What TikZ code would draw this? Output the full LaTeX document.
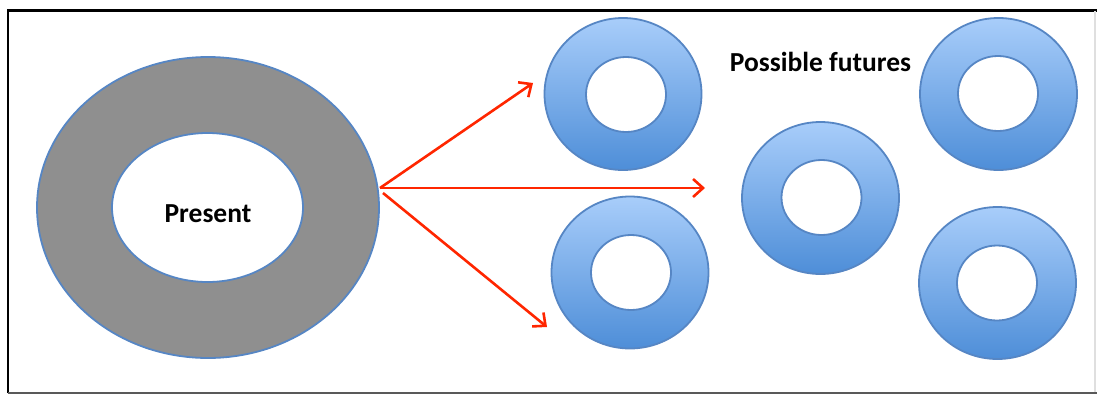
\documentclass[tikz,border=0pt]{standalone}
\usepackage{fontspec}
\setmainfont{Carlito}
\usetikzlibrary{shapes.geometric,arrows.meta}
\definecolor{ringedge}{RGB}{86,134,196}
\definecolor{ringtop}{RGB}{168,205,250}
\definecolor{ringbot}{RGB}{78,142,216}
\definecolor{presentgray}{RGB}{143,143,143}
\definecolor{arrowred}{RGB}{255,38,0}
\tikzset{
  outerring/.style={ellipse, inner sep=0pt, draw=ringedge, line width=1.8pt,
    top color=ringtop, bottom color=ringbot, minimum width=157pt, minimum height=152pt},
  innerring/.style={ellipse, inner sep=0pt, draw=ringedge, line width=1.8pt,
    fill=white, minimum width=80pt, minimum height=75pt},
  bigouter/.style={ellipse, inner sep=0pt, draw=ringedge, line width=1.8pt,
    fill=presentgray, minimum width=342pt, minimum height=301pt},
  biginner/.style={ellipse, inner sep=0pt, draw=ringedge, line width=1.8pt,
    fill=white, minimum width=191pt, minimum height=149pt},
  label/.style={inner sep=0pt, font=\fontsize{27.5}{30}\selectfont\bfseries},
  future/.style={draw=arrowred, line width=2.6pt,
    -{Straight Barb[length=10pt,width=18pt,line width=2.6pt]}}
}
\begin{document}
\begin{tikzpicture}[x=1pt,y=-1pt]
\useasboundingbox (0,0) rectangle (1097,394);
% frame
\draw[black, line width=2.5pt] (8,393) -- (8,10.5) -- (1097,10.5);
\draw[gray!25, line width=1.2pt] (1095,10.5) -- (1095,393);
\draw[black!65, line width=1.5pt] (8,393) -- (1097,393);
% present
\node[bigouter] (pout) at (208,207.5) {};
\node[biginner] (pin) at (207.5,207.5) {};
\node[label] (ptext) at (208,213.5) {Present};
% futures
\node[outerring] (f1) at (623,94) {};
\node[innerring] (f1i) at (626,94.5) {};
\node[outerring] (f2) at (630,272.5) {};
\node[innerring] (f2i) at (631,272.5) {};
\node[outerring] (f3) at (820.5,198) {};
\node[innerring] (f3i) at (821.5,197.5) {};
\node[outerring] (f4) at (998.5,94) {};
\node[innerring] (f4i) at (998,93.5) {};
\node[outerring] (f5) at (997.5,283) {};
\node[innerring] (f5i) at (997,283) {};
\node[label] (ftext) at (820.5,62) {Possible futures};
% arrows
\coordinate (src) at (380,188);
\coordinate (src3) at (383,193);
\coordinate (t1) at (533,83);
\coordinate (t2) at (705,188);
\coordinate (t3) at (547,327);
\draw[future] (src) -- (t1);
\draw[future] (src) -- (t2);
\draw[future] (src3) -- (t3);
\end{tikzpicture}
\end{document}
